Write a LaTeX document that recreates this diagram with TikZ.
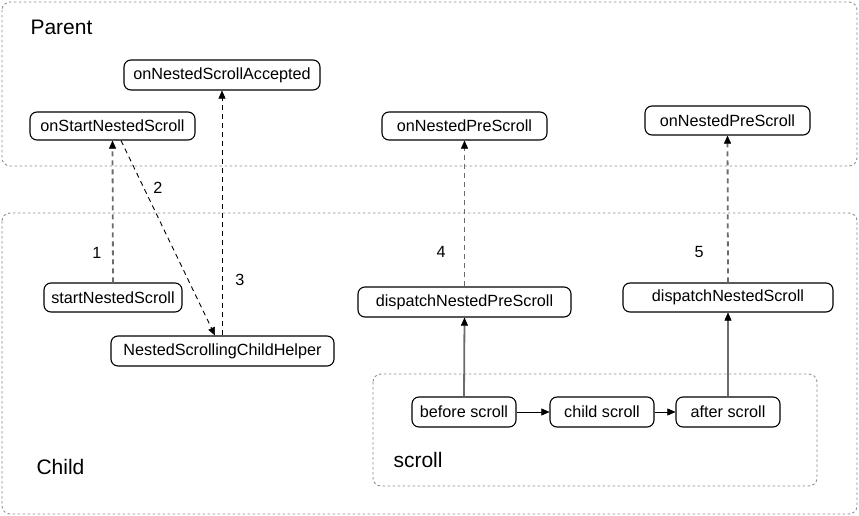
\documentclass[tikz,border=0pt]{standalone}
\usepackage{fontspec}
\setmainfont{Liberation Sans}
\usetikzlibrary{arrows.meta}
\begin{document}
\begin{tikzpicture}[x=1pt,y=-1pt,
  fn/.style={draw=black, line width=1.1pt, rounded corners=7pt, fill=white,
    font=\fontsize{16.2}{18}\selectfont, inner sep=0pt, anchor=center},
  group/.style={draw=black!45, line width=0.9pt, dash pattern=on 2.5pt off 2.5pt, rounded corners=8pt},
  grouplabel/.style={font=\fontsize{21}{24}\selectfont, anchor=west},
  num/.style={font=\fontsize{16.2}{18}\selectfont},
  tip/.style={-{Triangle[length=8pt,width=7pt,color=black,line width=0.5pt]}},
  callgray/.style={tip, draw=black!58, line width=1.8pt, dash pattern=on 5pt off 4pt},
  callthin/.style={tip, draw=black, line width=0.9pt, dash pattern=on 5pt off 4pt},
  flowgray/.style={tip, draw=black!58, line width=1.8pt},
  flow/.style={tip, draw=black, line width=1pt}
]
\useasboundingbox (0,0) rectangle (859,516);

% containers
\draw[group] (2,2) rectangle (857,166);
\draw[group] (2,213) rectangle (857,514);
\draw[group] (373,374) rectangle (817,486);
\node[grouplabel] (parentlbl) at (27,27) {Parent};
\node[grouplabel] (childlbl) at (33,467) {Child};
\node[grouplabel] (scrolllbl) at (390,460) {scroll};

% parent side callbacks
\node[fn, minimum width=196pt, minimum height=30pt] (accepted) at (222,75) {onNestedScrollAccepted};
\node[fn, minimum width=165pt, minimum height=28pt] (onstart) at (112.5,126) {onStartNestedScroll};
\node[fn, minimum width=165pt, minimum height=28pt] (onpre1) at (464.5,126) {onNestedPreScroll};
\node[fn, minimum width=165pt, minimum height=29pt] (onpre2) at (727.5,120.5) {onNestedPreScroll};

% child side calls
\node[fn, minimum width=138pt, minimum height=29pt] (start) at (113,297.5) {startNestedScroll};
\node[fn, minimum width=223pt, minimum height=30pt] (helper) at (222.5,351) {NestedScrollingChildHelper};
\node[fn, minimum width=213pt, minimum height=30pt] (dpre) at (464.5,302) {dispatchNestedPreScroll};
\node[fn, minimum width=210pt, minimum height=29pt] (dscroll) at (728,297.5) {dispatchNestedScroll};

% scroll steps
\node[fn, minimum width=104pt, minimum height=30pt] (before) at (464,412) {before scroll};
\node[fn, minimum width=104pt, minimum height=30pt] (childs) at (602,412) {child scroll};
\node[fn, minimum width=104pt, minimum height=30pt] (after) at (728,412) {after scroll};

% numbered calls
\draw[callgray] (start.north) -- (onstart.south);
\draw[callthin] ([xshift=8.5pt]onstart.south) -- ([xshift=-7.5pt]helper.north);
\draw[callthin] (helper.north -| accepted.south) -- (accepted.south);
\draw[callgray] (dpre.north) -- (onpre1.south);
\draw[callgray] (dscroll.north) -- (onpre2.south);
\node[num] (n1) at (97,253) {1};
\node[num] (n2) at (158,188) {2};
\node[num] (n3) at (240,280) {3};
\node[num] (n4) at (441,252) {4};
\node[num] (n5) at (699,252) {5};

% scroll flow
\draw[flowgray] (before.north) -- (dpre.south);
\draw[flowgray] (after.north) -- (dscroll.south);
\draw[flow] (before.east) -- (childs.west);
\draw[flow] (childs.east) -- (after.west);
\end{tikzpicture}
\end{document}
